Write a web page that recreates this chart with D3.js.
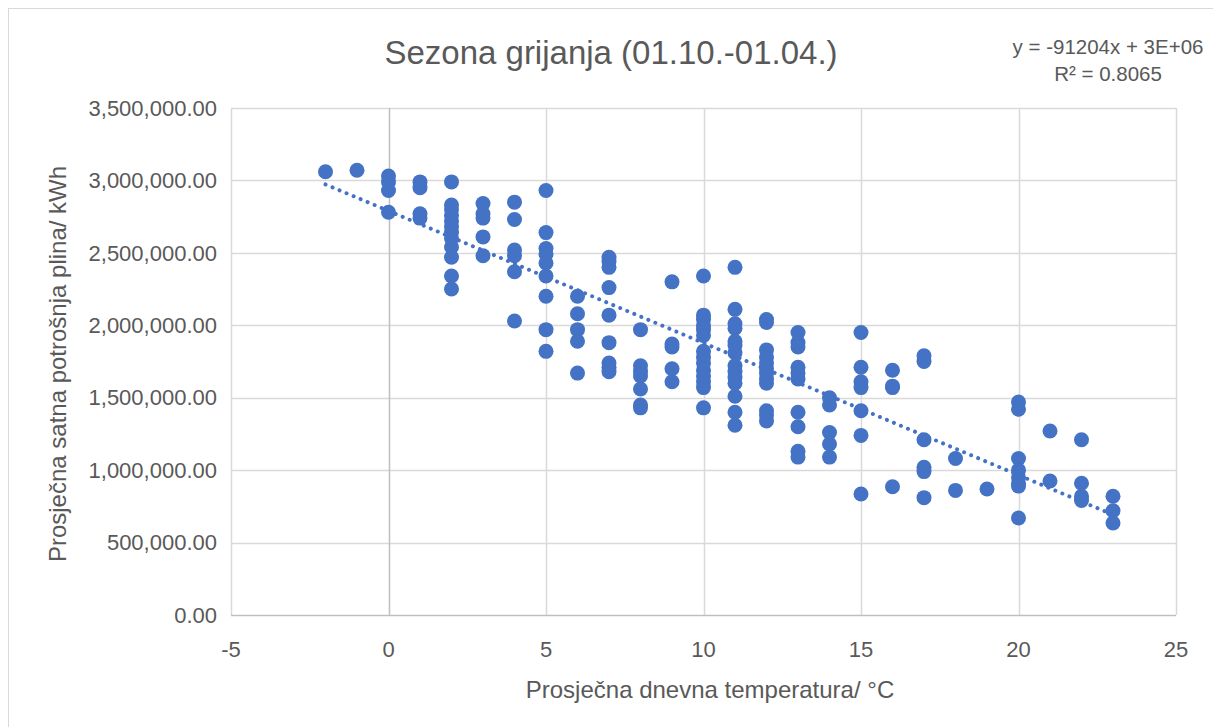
<!doctype html>
<html lang="hr">
<head>
<meta charset="UTF-8">
<title>Sezona grijanja</title>
<script src="https://cdn.jsdelivr.net/npm/d3@7"></script>
<style>
  body { margin: 0; background: #fff; }
  text { font-family: "Liberation Sans", Arial, sans-serif; fill: #595959; }
</style>
</head>
<body>
<script>
  // temperature (°C) and the readings measured at each temperature (kWh)
  var temps = [-2, -1, 0, 1, 2, 3, 4, 5, 6, 7, 8, 9, 10, 11, 12, 13, 14, 15, 16, 17, 18, 19, 20, 21, 22, 23];
  var consumption = [
    [3060000],
    [3070000],
    [3030000, 2990000, 2930000, 2780000],
    [2990000, 2950000, 2770000, 2740000],
    [2990000, 2830000, 2800000, 2760000, 2720000, 2680000, 2640000, 2600000, 2540000, 2470000, 2340000, 2250000],
    [2840000, 2770000, 2740000, 2610000, 2480000],
    [2850000, 2730000, 2520000, 2480000, 2370000, 2030000],
    [2930000, 2640000, 2530000, 2490000, 2430000, 2340000, 2200000, 1970000, 1820000],
    [2200000, 2080000, 1970000, 1890000, 1670000],
    [2470000, 2440000, 2400000, 2260000, 2070000, 1880000, 1740000, 1710000, 1680000],
    [1970000, 1720000, 1680000, 1650000, 1560000, 1450000, 1430000],
    [2300000, 1870000, 1850000, 1700000, 1610000],
    [2340000, 2070000, 2040000, 2000000, 1970000, 1930000, 1820000, 1780000, 1740000, 1690000, 1650000, 1610000, 1570000, 1430000],
    [2400000, 2110000, 2010000, 1980000, 1890000, 1860000, 1810000, 1720000, 1680000, 1640000, 1600000, 1510000, 1400000, 1310000],
    [2040000, 2020000, 1830000, 1780000, 1740000, 1700000, 1670000, 1630000, 1600000, 1410000, 1380000, 1340000],
    [1950000, 1880000, 1850000, 1710000, 1670000, 1630000, 1400000, 1300000, 1130000, 1090000],
    [1500000, 1450000, 1260000, 1180000, 1090000],
    [1950000, 1710000, 1610000, 1570000, 1410000, 1240000, 835000],
    [1690000, 1580000, 1570000, 885000],
    [1790000, 1750000, 1210000, 1020000, 990000, 810000],
    [1080000, 860000],
    [870000],
    [1470000, 1420000, 1080000, 1000000, 950000, 910000, 890000, 670000],
    [1270000, 925000],
    [1210000, 910000, 820000, 790000],
    [820000, 720000, 635000]
  ];
  var trendSlope = -91204;
  var trendIntercept = 2790000;
  var xTicks = [-5, 0, 5, 10, 15, 20, 25];
  var yTicks = [0, 500000, 1000000, 1500000, 2000000, 2500000, 3000000, 3500000];

  var width = 1213, height = 727;
  var plot = {left: 231, right: 1176, top: 108, bottom: 615};
  var blue = "#4472C4";

  var points = [];
  temps.forEach(function(t, i) {
    consumption[i].forEach(function(v) { points.push({x: t, y: v}); });
  });

  var svg = d3.select("body").append("svg")
      .attr("width", width)
      .attr("height", height);

  // chart border
  svg.append("rect")
      .attr("x", 8.5).attr("y", 8.5)
      .attr("width", width).attr("height", height)
      .attr("fill", "#fff")
      .attr("stroke", "#d9d9d9");

  var x = d3.scaleLinear().domain([-5, 25]).range([plot.left, plot.right]);
  var y = d3.scaleLinear().domain([0, 3500000]).range([plot.bottom, plot.top]);

  // gridlines
  svg.append("g").selectAll("line")
      .data(yTicks.filter(function(d) { return d > 0; }))
      .enter().append("line")
      .attr("x1", plot.left).attr("x2", plot.right)
      .attr("y1", function(d) { return Math.round(y(d)) + 0.5; })
      .attr("y2", function(d) { return Math.round(y(d)) + 0.5; })
      .attr("stroke", "#d9d9d9").attr("stroke-width", 1.5);

  svg.append("g").selectAll("line")
      .data(xTicks.filter(function(d) { return d !== 0; }))
      .enter().append("line")
      .attr("x1", function(d) { return Math.round(x(d)) + 0.5; })
      .attr("x2", function(d) { return Math.round(x(d)) + 0.5; })
      .attr("y1", plot.top).attr("y2", plot.bottom)
      .attr("stroke", "#d9d9d9").attr("stroke-width", 1.5);

  // axis lines (value axis crosses at x = 0)
  svg.append("line")
      .attr("x1", Math.round(x(0)) + 0.5).attr("x2", Math.round(x(0)) + 0.5)
      .attr("y1", plot.top).attr("y2", plot.bottom)
      .attr("stroke", "#bfbfbf").attr("stroke-width", 1.5);
  svg.append("line")
      .attr("x1", plot.left).attr("x2", plot.right)
      .attr("y1", Math.round(y(0)) + 0.5).attr("y2", Math.round(y(0)) + 0.5)
      .attr("stroke", "#bfbfbf").attr("stroke-width", 1.5);

  // tick labels
  var fmt = d3.format(",.2f");
  svg.append("g").selectAll("text")
      .data(yTicks)
      .enter().append("text")
      .attr("x", 217)
      .attr("y", function(d) { return y(d); })
      .attr("dy", "0.35em")
      .attr("text-anchor", "end")
      .attr("font-size", 22)
      .text(function(d) { return fmt(d); });

  svg.append("g").selectAll("text")
      .data(xTicks)
      .enter().append("text")
      .attr("x", function(d) { return x(d); })
      .attr("y", 649)
      .attr("dy", "0.35em")
      .attr("text-anchor", "middle")
      .attr("font-size", 22)
      .text(function(d) { return d; });

  // points
  svg.append("g").selectAll("circle")
      .data(points)
      .enter().append("circle")
      .attr("cx", function(d) { return x(d.x); })
      .attr("cy", function(d) { return y(d.y); })
      .attr("r", 7.5)
      .attr("fill", blue);

  // linear trendline, dotted
  var trendX = [d3.min(temps), d3.max(temps)];
  var line = d3.line()
      .x(function(d) { return x(d); })
      .y(function(d) { return y(trendSlope * d + trendIntercept); });
  svg.append("path")
      .attr("d", line(trendX))
      .attr("fill", "none")
      .attr("stroke", blue)
      .attr("stroke-width", 4)
      .attr("stroke-linecap", "round")
      .attr("stroke-dasharray", "0.01 7.6");

  // titles
  svg.append("text")
      .attr("x", 611).attr("y", 52)
      .attr("dy", "0.35em")
      .attr("text-anchor", "middle")
      .attr("font-size", 33)
      .text("Sezona grijanja (01.10.-01.04.)");

  svg.append("text")
      .attr("x", 710).attr("y", 690)
      .attr("dy", "0.35em")
      .attr("text-anchor", "middle")
      .attr("font-size", 24)
      .text("Prosječna dnevna temperatura/ °C");

  svg.append("text")
      .attr("transform", "translate(58,364) rotate(-90)")
      .attr("dy", "0.35em")
      .attr("text-anchor", "middle")
      .attr("font-size", 24)
      .text("Prosječna satna potrošnja plina/ kWh");

  // trendline label
  var eq = svg.append("text")
      .attr("text-anchor", "middle")
      .attr("font-size", 20.5);
  eq.append("tspan").attr("x", 1108).attr("y", 54).text("y = -91204x + 3E+06");
  eq.append("tspan").attr("x", 1108).attr("y", 81).text("R² = 0.8065");
</script>
</body>
</html>
